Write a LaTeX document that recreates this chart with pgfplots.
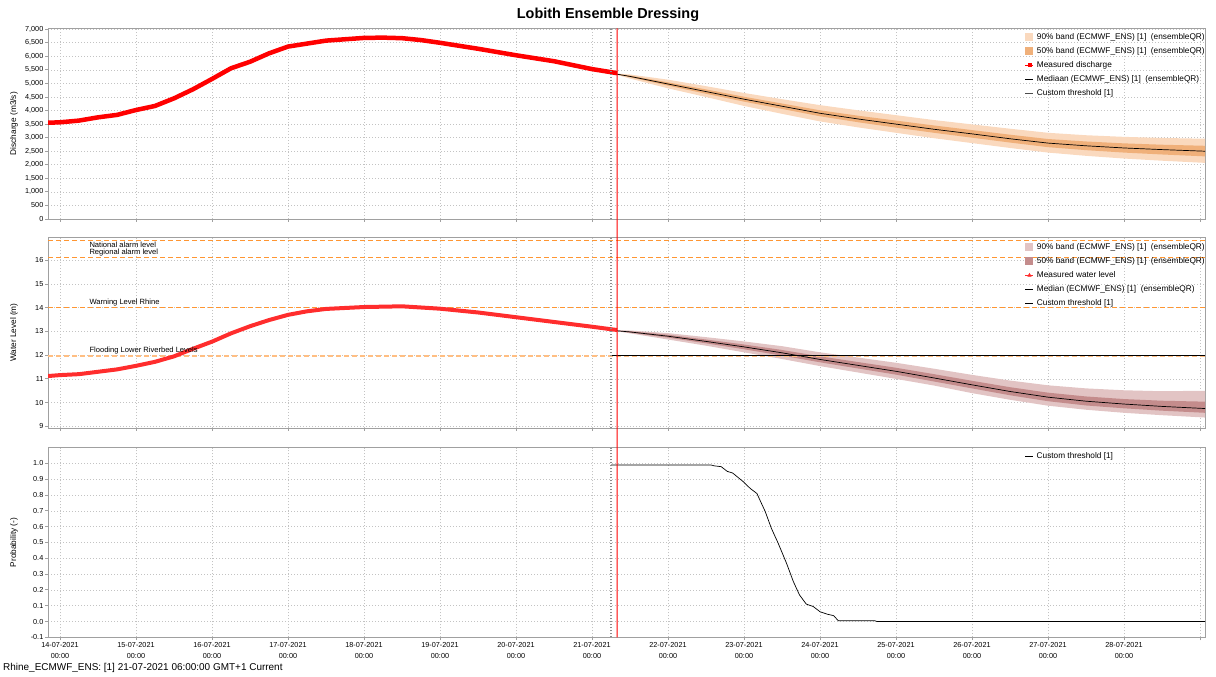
\documentclass[border=0pt]{standalone}
\usepackage{pgfplots}
\pgfplotsset{compat=1.18}
\usepackage{pgfplotstable}
\usepgfplotslibrary{fillbetween}
\usepackage{fontspec}
\setmainfont{Liberation Sans}

\definecolor{bandAt}{RGB}{250,217,190}
\definecolor{bandBt}{RGB}{240,176,122}
\definecolor{bandAm}{RGB}{226,196,196}
\definecolor{bandBm}{RGB}{196,140,140}
\definecolor{measred}{RGB}{255,0,0}
\definecolor{wlred}{RGB}{255,45,45}
\definecolor{orng}{RGB}{255,150,50}
\definecolor{orngl}{RGB}{255,190,130}
\definecolor{gridc}{RGB}{195,195,195}
\definecolor{axisc}{RGB}{160,160,160}
\definecolor{tzero}{RGB}{140,140,140}

% measured discharge
\pgfplotstableread{
t q
-0.16 3550
0 3567
0.25 3630
0.5 3750
0.75 3840
1 4020
1.25 4170
1.5 4450
1.75 4785
2 5166
2.25 5560
2.5 5800
2.75 6110
3 6360
3.5 6580
4 6680
4.25 6690
4.5 6670
4.75 6600
5 6500
5.5 6280
6 6040
6.5 5820
7 5530
7.33 5380
}\measQ

% forecast discharge: median, 50% band, 90% band
\pgfplotstableread{
t med l50 h50 l90 h90
7.25 5380 5380 5380 5380 5380
7.5 5260 5230 5290 5180 5330
8 4980 4920 5040 4820 5140
8.5 4700 4620 4780 4500 4900
9 4420 4330 4510 4170 4650
9.5 4160 4060 4260 3880 4420
10 3900 3790 4010 3600 4200
10.5 3690 3570 3810 3380 4010
11 3500 3370 3630 3180 3830
11.5 3310 3180 3450 2980 3650
12 3140 3000 3280 2800 3490
12.5 2960 2820 3110 2620 3330
13 2800 2650 2950 2450 3180
13.5 2700 2540 2860 2330 3090
14 2620 2450 2790 2230 3030
14.5 2560 2380 2740 2150 2990
15.07 2500 2310 2700 2070 2960
}\foreQ

% measured water level
\pgfplotstableread{
t h
-0.16 11.12
0 11.16
0.25 11.2
0.5 11.3
0.75 11.4
1 11.55
1.25 11.72
1.5 11.95
1.75 12.27
2 12.57
2.25 12.92
2.5 13.22
2.75 13.48
3 13.7
3.25 13.85
3.5 13.95
4 14.03
4.5 14.06
5 13.96
5.5 13.8
6 13.6
6.5 13.4
7 13.2
7.33 13.06
}\measH

% forecast water level
\pgfplotstableread{
t med l50 h50 l90 h90
7.25 13.05 13.05 13.05 13.05 13.05
7.5 12.98 12.95 13.01 12.92 13.04
8 12.8 12.74 12.86 12.66 12.93
8.5 12.58 12.5 12.66 12.4 12.76
9 12.35 12.25 12.45 12.12 12.58
9.5 12.1 11.98 12.22 11.84 12.38
10 11.82 11.7 11.95 11.54 12.12
10.5 11.57 11.44 11.71 11.27 11.9
11 11.32 11.18 11.47 11.0 11.68
11.5 11.04 10.89 11.2 10.72 11.43
12 10.75 10.6 10.92 10.4 11.17
12.5 10.47 10.31 10.65 10.12 10.93
13 10.23 10.06 10.42 9.87 10.73
13.5 10.06 9.88 10.26 9.7 10.6
14 9.94 9.76 10.15 9.57 10.52
14.5 9.84 9.66 10.08 9.47 10.48
15.07 9.75 9.57 10.04 9.37 10.5
}\foreH

% probability of exceeding custom threshold
\pgfplotstableread{
t p
7.25 0.99
8.57 0.99
8.61 0.985
8.70 0.98
8.78 0.95
8.85 0.94
8.99 0.885
9.08 0.843
9.17 0.81
9.28 0.695
9.36 0.59
9.45 0.495
9.56 0.368
9.65 0.252
9.73 0.168
9.82 0.11
9.91 0.095
10.0 0.062
10.09 0.047
10.18 0.037
10.24 0.005
10.72 0.005
10.75 0.0
15.07 0.0
}\prob

\tikzset{
  tzline/.style={tzero, line width=1.2bp, dash pattern=on 1.2bp off 1.8bp},
  thr/.style={line width=1.3bp, dash pattern=on 5bp off 3bp},
}

\pgfplotsset{
  panel/.style={
    scale only axis, width=1157bp,
    xmin=-0.158, xmax=15.066,
    xtick={0,...,15},
    xtick pos=bottom, ytick pos=left,
    tick align=outside, major tick length=3bp,
    grid=major,
    major grid style={gridc, dash pattern=on 1bp off 2bp, line width=0.6bp},
    axis line style={axisc, line width=0.9bp},
    tick style={axisc, line width=0.8bp},
    ticklabel style={font=\fontsize{7.3}{11}\selectfont, inner sep=1.5bp},
    /pgf/number format/assume math mode=true,
    ylabel style={font=\fontsize{8.3}{10}\selectfont, at={(axis description cs:-0.0294,0.5)}, anchor=center},
    legend cell align=left,
    legend style={draw=none, fill=none, inner sep=0pt, outer sep=0pt,
      row sep=6.5bp, column sep=3bp, anchor=north west,
      nodes={inner sep=0pt, font=\fontsize{8.3}{10}\selectfont}},
  },
}

\begin{document}
\begin{tikzpicture}
\path (0,0) rectangle (1216bp,677bp);

\node[font=\fontsize{14.5}{16}\selectfont\bfseries] at (608bp,662bp) {Lobith Ensemble Dressing};
\node[font=\fontsize{10}{12}\selectfont, anchor=west, inner sep=0pt] at (3bp,9bp) {Rhine\_ECMWF\_ENS: [1] 21-07-2021 06:00:00 GMT+1 Current};

% ---------------- top panel ----------------
\begin{axis}[panel, at={(48bp,458bp)}, anchor=south west, height=190.7bp,
  ymin=0, ymax=7035, ytick={0,500,...,7000},
  yticklabel style={/pgf/number format/.cd, fixed, 1000 sep={,}},
  xticklabels={},
  ylabel={Discharge (m3/s)},
  legend style={at={(axis description cs:0.8444,0.9738)}},
]
\addlegendimage{legend image code/.code={\fill[bandAt] (0bp,-3.5bp) rectangle (7bp,3.5bp);}}
\addlegendentry{90\% band (ECMWF\_ENS) [1]\ \ (ensembleQR)}
\addlegendimage{legend image code/.code={\fill[bandBt] (0bp,-3.5bp) rectangle (7bp,3.5bp);}}
\addlegendentry{50\% band (ECMWF\_ENS) [1]\ \ (ensembleQR)}
\addlegendimage{legend image code/.code={\draw[measred, line width=1bp] (0bp,0bp) -- (8bp,0bp); \fill[measred] (2.5bp,-1.5bp) rectangle (5.5bp,1.5bp);}}
\addlegendentry{Measured discharge}
\addlegendimage{legend image code/.code={\draw[black, line width=0.7bp] (0bp,0bp) -- (8bp,0bp);}}
\addlegendentry{Mediaan (ECMWF\_ENS) [1]\ \ (ensembleQR)}
\addlegendimage{legend image code/.code={\draw[black!70, line width=0.9bp] (0bp,0bp) -- (8bp,0bp);}}
\addlegendentry{Custom threshold [1]}

\addplot[draw=none, name path=qa, forget plot] table[x=t, y=h90] {\foreQ};
\addplot[draw=none, name path=qb, forget plot] table[x=t, y=l90] {\foreQ};
\addplot[bandAt, forget plot] fill between[of=qa and qb];
\addplot[draw=none, name path=qc, forget plot] table[x=t, y=h50] {\foreQ};
\addplot[draw=none, name path=qd, forget plot] table[x=t, y=l50] {\foreQ};
\addplot[bandBt, forget plot] fill between[of=qc and qd];
\addplot[black, line width=0.7bp, forget plot] table[x=t, y=med] {\foreQ};
\addplot[measred, line width=4.5bp, forget plot] table[x=t, y=q] {\measQ};
\draw[tzline] (axis cs:7.25,0) -- (axis cs:7.25,7035);
\coordinate (rt) at (axis cs:7.33,7035);
\end{axis}

% ---------------- middle panel ----------------
\begin{axis}[panel, at={(48bp,249bp)}, anchor=south west, height=190.7bp,
  ymin=8.93, ymax=16.97, ytick={9,...,16},
  xticklabels={},
  ylabel={Water Level (m)},
  legend style={at={(axis description cs:0.8444,0.9685)}},
]
\addlegendimage{legend image code/.code={\fill[bandAm] (0bp,-3.5bp) rectangle (7bp,3.5bp);}}
\addlegendentry{90\% band (ECMWF\_ENS) [1]\ \ (ensembleQR)}
\addlegendimage{legend image code/.code={\fill[bandBm] (0bp,-3.5bp) rectangle (7bp,3.5bp);}}
\addlegendentry{50\% band (ECMWF\_ENS) [1]\ \ (ensembleQR)}
\addlegendimage{legend image code/.code={\draw[wlred, line width=1bp] (0bp,0bp) -- (8bp,0bp); \fill[wlred] (2.3bp,-1.3bp) -- (5.7bp,-1.3bp) -- (4bp,1.7bp) -- cycle;}}
\addlegendentry{Measured water level}
\addlegendimage{legend image code/.code={\draw[black, line width=0.7bp] (0bp,0bp) -- (8bp,0bp);}}
\addlegendentry{Median (ECMWF\_ENS) [1]\ \ (ensembleQR)}
\addlegendimage{legend image code/.code={\draw[black, line width=0.9bp] (0bp,0bp) -- (8bp,0bp);}}
\addlegendentry{Custom threshold [1]}

\addplot[orng, thr, forget plot] coordinates {(-0.158,16.84) (15.066,16.84)};
\addplot[orng, thr, forget plot] coordinates {(-0.158,16.13) (15.066,16.13)};
\addplot[orng, thr, forget plot] coordinates {(-0.158,14.0) (15.066,14.0)};
\addplot[orngl, thr, forget plot] coordinates {(-0.158,11.97) (15.066,11.97)};

\addplot[draw=none, name path=ha, forget plot] table[x=t, y=h90] {\foreH};
\addplot[draw=none, name path=hb, forget plot] table[x=t, y=l90] {\foreH};
\addplot[bandAm, forget plot] fill between[of=ha and hb];
\addplot[draw=none, name path=hc, forget plot] table[x=t, y=h50] {\foreH};
\addplot[draw=none, name path=hd, forget plot] table[x=t, y=l50] {\foreH};
\addplot[bandBm, forget plot] fill between[of=hc and hd];
\addplot[black, line width=0.7bp, forget plot] table[x=t, y=med] {\foreH};
\addplot[black, line width=1bp, forget plot] coordinates {(7.25,12.0) (15.066,12.0)};
\addplot[wlred, line width=4bp, forget plot] table[x=t, y=h] {\measH};
\draw[tzline] (axis cs:7.25,8.93) -- (axis cs:7.25,16.97);

\begin{scope}[every node/.style={font=\fontsize{7.6}{9}\selectfont, inner sep=1.2bp}]
\node[anchor=north west] at (axis cs:0.37,16.84) {National alarm level};
\node[anchor=south west] at (axis cs:0.37,16.13) {Regional alarm level};
\node[anchor=south west] at (axis cs:0.37,14.0) {Warning Level Rhine};
\node[anchor=south west] at (axis cs:0.37,11.97) {Flooding Lower Riverbed Levels};
\end{scope}
\end{axis}

% ---------------- bottom panel ----------------
\begin{axis}[panel, at={(48bp,39.7bp)}, anchor=south west, height=189.6bp,
  ymin=-0.1, ymax=1.1, ytick={-0.1,0,0.1,...,1.1},
  yticklabel style={/pgf/number format/.cd, fixed, fixed zerofill, precision=1},
  xticklabels={{14-07-2021\\00:00},{15-07-2021\\00:00},{16-07-2021\\00:00},{17-07-2021\\00:00},{18-07-2021\\00:00},{19-07-2021\\00:00},{20-07-2021\\00:00},{21-07-2021\\00:00},{22-07-2021\\00:00},{23-07-2021\\00:00},{24-07-2021\\00:00},{25-07-2021\\00:00},{26-07-2021\\00:00},{27-07-2021\\00:00},{28-07-2021\\00:00},{}},
  xticklabel style={align=center},
  ylabel={Probability (-)},
  legend style={at={(axis description cs:0.8444,0.972)}},
]
\addlegendimage{legend image code/.code={\draw[black, line width=0.7bp] (0bp,0bp) -- (8bp,0bp);}}
\addlegendentry{Custom threshold [1]}
\addplot[black, line width=0.7bp, forget plot] table[x=t, y=p] {\prob};
\draw[tzline] (axis cs:7.25,-0.1) -- (axis cs:7.25,1.1);
\coordinate (rb) at (axis cs:7.33,-0.1);
\end{axis}

\draw[red, line width=0.9bp] (rt) -- (rb);
\end{tikzpicture}
\end{document}
